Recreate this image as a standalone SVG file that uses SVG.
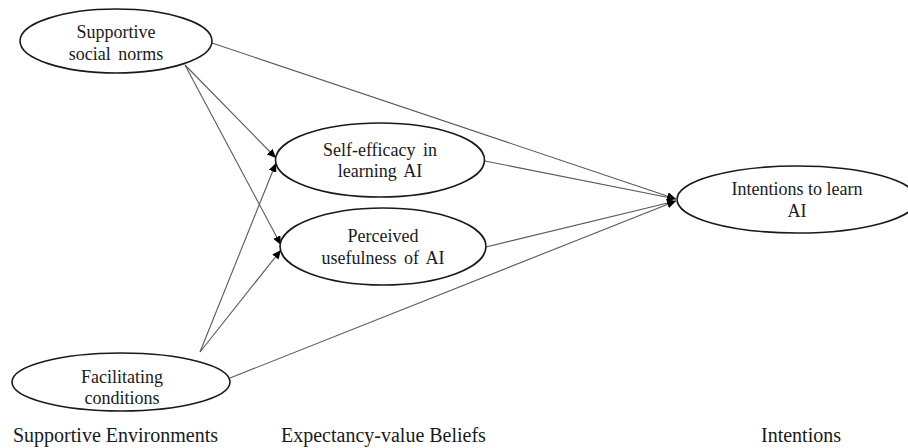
<svg xmlns="http://www.w3.org/2000/svg" width="908" height="448" viewBox="0 0 908 448">
<style>
.node ellipse{fill:#fff;stroke:#1a1a1a;stroke-width:1.6}
.node text,.lbl{font-family:"Liberation Serif","Times New Roman",serif;fill:#1a1a1a;text-anchor:middle}
.node text{font-size:18px}
.lbl{font-size:20px;text-anchor:start}
.edge{stroke:#595959;stroke-width:1.1;fill:none}
.arr{marker-end:url(#ah)}
</style>
<defs>
<marker id="ah" markerUnits="userSpaceOnUse" markerWidth="10" markerHeight="8" refX="9" refY="4" orient="auto">
<path d="M0,0 L9,4 L0,8 Z" fill="#000"/>
</marker>
</defs>
<rect width="908" height="448" fill="#fff"/>
<g id="connectors">
<line class="edge arr" x1="212" y1="43" x2="676" y2="199"/>
<line class="edge arr" x1="185" y1="65" x2="276" y2="158"/>
<line class="edge arr" x1="185" y1="65" x2="281" y2="245"/>
<line class="edge arr" x1="200" y1="352" x2="276" y2="163"/>
<line class="edge arr" x1="200" y1="352" x2="281" y2="250"/>
<line class="edge arr" x1="230" y1="378" x2="676" y2="201"/>
<line class="edge arr" x1="485" y1="161" x2="676" y2="199"/>
<line class="edge arr" x1="486" y1="247" x2="676" y2="201"/>
</g>
<g id="supportive-social-norms" class="node">
<ellipse cx="116" cy="41" rx="96" ry="32"/>
<text x="116" y="38">Supportive</text>
<text x="116" y="60" word-spacing="3">social norms</text>
</g>
<g id="self-efficacy" class="node">
<ellipse cx="380" cy="160" rx="104.5" ry="37"/>
<text x="380" y="156" word-spacing="3">Self-efficacy in</text>
<text x="380" y="177" word-spacing="3">learning AI</text>
</g>
<g id="perceived-usefulness" class="node">
<ellipse cx="383" cy="246.5" rx="103" ry="38.5"/>
<text x="383" y="242">Perceived</text>
<text x="383" y="264" word-spacing="3">usefulness of AI</text>
</g>
<g id="intentions-to-learn" class="node">
<ellipse cx="797" cy="199.5" rx="120" ry="33.5"/>
<text x="797" y="195">Intentions to learn</text>
<text x="797" y="217">AI</text>
</g>
<g id="facilitating-conditions" class="node">
<ellipse cx="121" cy="382" rx="109" ry="29"/>
<text x="122" y="383">Facilitating</text>
<text x="122" y="404">conditions</text>
</g>
<g id="column-labels">
<text class="lbl" x="13" y="442">Supportive Environments</text>
<text class="lbl" x="281" y="442">Expectancy-value Beliefs</text>
<text class="lbl" x="761" y="442">Intentions</text>
</g>
</svg>
